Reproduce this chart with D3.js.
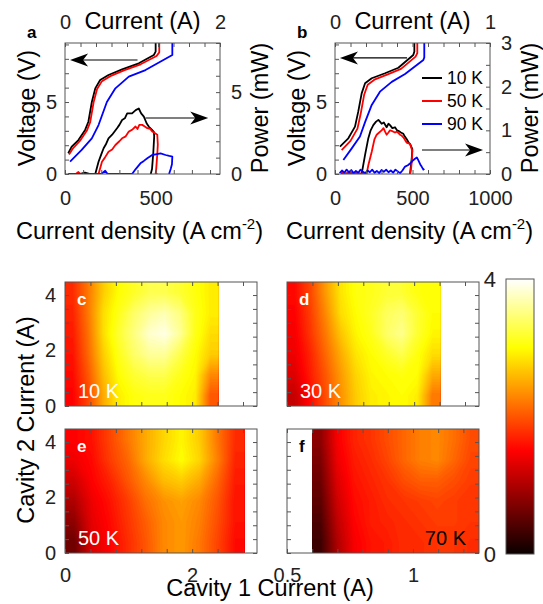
<!DOCTYPE html>
<html>
<head>
<meta charset="utf-8">
<script src="https://cdn.jsdelivr.net/npm/d3@7"></script>
<style>
body { margin: 0; background: #fff; }
</style>
</head>
<body>
<script>
// ---- values ----
// panel a : [current density (A cm-2), voltage (V)] and [current density, power (mW)]
var aVolt10 = [[18,1.44],[37,1.9],[74,2.36],[111,3.06],[129,3.63],[148,5.0],[167,5.95],[194,6.53],[240,6.88],[315,7.27],[407,7.69],[490,8.27],[500,8.5],[500,9.1]];
var aVolt50 = [[22,1.35],[45,1.8],[82,2.3],[120,3.0],[139,3.6],[158,5.0],[177,5.9],[204,6.45],[250,6.8],[325,7.2],[417,7.62],[505,8.2],[520,8.45],[520,9.1]];
var aVolt90 = [[28,0.86],[92,1.67],[148,2.48],[185,3.4],[231,5.0],[278,5.95],[352,6.76],[444,7.22],[592,8.27],[592,9.1]];
var aPow10 = [[20,0],[80,0],[110,0.08],[140,0],[167,0],[185,0.75],[200,1.2],[213,1.57],[225,1.8],[240,2.18],[260,2.4],[287,2.79],[300,3.0],[315,3.3],[330,3.4],[343,3.7],[370,3.7],[390,3.9],[407,4.0],[420,3.7],[435,3.5],[450,3.1],[462,2.9],[480,2.7],[490,2.58],[492,2.3],[487,1.3],[480,0.3],[473,0],[470,0]];
var aPow50 = [[20,0],[60,0],[74,0.12],[85,0],[185,0],[204,0.75],[220,1.0],[240,1.36],[260,1.5],[278,1.77],[300,2.0],[315,2.18],[335,2.3],[352,2.59],[370,2.7],[389,2.9],[400,2.75],[410,3.0],[426,3.0],[440,2.9],[454,2.8],[470,2.75],[481,2.6],[495,2.5],[509,2.4],[512,1.8],[509,1.2],[503,0.3],[500,0],[510,0]];
var aPow90 = [[20,0],[200,0],[222,0.2],[235,0],[370,0],[390,0.3],[416,0.65],[435,0.8],[454,0.96],[481,1.16],[500,1.2],[527,1.26],[555,1.16],[575,1.1],[592,1.06],[590,0.6],[583,0.3],[574,0]];

// panel b
var bVolt10 = [[32,1.9],[86,2.48],[129,3.29],[150,4.33],[172,5.6],[194,6.3],[237,6.65],[323,7.0],[409,7.38],[505,8.27],[512,8.5],[512,9.1]];
var bVolt50 = [[43,1.66],[100,2.3],[145,3.15],[166,4.2],[188,5.5],[211,6.2],[254,6.55],[340,6.92],[426,7.3],[520,8.15],[531,8.4],[531,9.1]];
var bVolt90 = [[54,0.97],[108,1.78],[161,2.6],[194,3.6],[237,4.8],[290,5.72],[366,6.4],[452,6.95],[570,7.92],[576,8.1],[576,9.1]];
var bPow10 = [[40,0],[100,0.02],[172,0],[194,0.44],[215,0.82],[230,1.0],[247,1.12],[265,1.2],[280,1.24],[290,1.2],[301,1.15],[315,1.18],[333,1.07],[345,1.15],[355,1.12],[370,1.05],[387,1.07],[400,1.0],[409,0.99],[425,0.95],[441,0.92],[452,0.85],[462,0.8],[475,0.72],[484,0.69],[499,0.57],[495,0.35],[490,0.2],[484,0]];
var bPow50 = [[40,0.05],[60,0],[90,0.03],[204,0],[215,0.2],[237,0.51],[255,0.8],[269,0.9],[285,0.95],[301,1.0],[313,1.05],[323,0.97],[333,0.9],[345,0.95],[355,1.0],[370,0.98],[387,0.95],[400,0.97],[419,0.9],[430,0.88],[441,0.84],[452,0.78],[462,0.72],[475,0.7],[484,0.69],[499,0.53],[496,0.3],[490,0.1],[484,0]];
var bPow90 = [[30,0.02],[45,0.08],[60,0.03],[75,0.1],[90,0.04],[105,0.09],[120,0.02],[135,0.07],[150,0.03],[165,0.1],[180,0.05],[195,0.02],[210,0.08],[225,0.04],[240,0.1],[255,0.03],[270,0.07],[285,0.02],[300,0.09],[315,0.05],[330,0.1],[345,0.04],[360,0.08],[375,0.03],[390,0.1],[405,0.06],[420,0.02],[435,0.08],[452,0.17],[470,0.2],[484,0.24],[500,0.3],[516,0.35],[528,0.38],[538,0.31],[550,0.22],[559,0.17],[570,0.1],[576,0.12]];

var temps = ["10 K", "50 K", "90 K"];

// maps c-f : output power, rows from top (cavity 2 = 4.47 A) to bottom (0 A)
var map10K = [
  [1.75, 2.2, 2.7, 3.0, 3.15, 3.3, 3.3, 3.2, 3.05, 2.9],
  [1.7, 2.2, 2.8, 3.1, 3.4, 3.6, 3.7, 3.5, 3.1, 2.9],
  [1.65, 2.15, 2.8, 3.2, 3.5, 3.8, 3.9, 3.6, 3.1, 2.8],
  [1.6, 2.1, 2.7, 3.1, 3.4, 3.6, 3.6, 3.3, 3.0, 2.7],
  [1.55, 2.0, 2.6, 3.0, 3.2, 3.3, 3.3, 3.1, 2.95, 2.3],
  [1.5, 1.9, 2.5, 2.9, 3.05, 3.1, 3.1, 3.0, 2.9, 2.0]];
var map30K = [
  [1.55, 1.9, 2.4, 2.85, 3.05, 3.1, 3.2, 3.2, 3.05, 3.0],
  [1.5, 1.85, 2.3, 2.8, 3.0, 3.15, 3.35, 3.45, 3.2, 3.0],
  [1.45, 1.8, 2.2, 2.65, 2.95, 3.1, 3.4, 3.55, 3.2, 2.95],
  [1.4, 1.7, 2.1, 2.5, 2.85, 3.0, 3.15, 3.3, 3.05, 2.8],
  [1.3, 1.65, 2.0, 2.4, 2.75, 2.95, 3.0, 3.05, 3.0, 2.5],
  [1.15, 1.55, 1.95, 2.35, 2.7, 2.9, 2.95, 3.0, 2.9, 2.2]];
var map50K = [
  [1.5, 1.6, 1.9, 2.2, 2.5, 2.75, 2.95, 2.7, 2.2, 1.75],
  [1.4, 1.55, 1.85, 2.1, 2.5, 2.8, 3.0, 2.75, 2.25, 1.7],
  [1.2, 1.5, 1.7, 2.0, 2.3, 2.6, 2.7, 2.5, 2.1, 1.65],
  [1.0, 1.4, 1.6, 1.85, 2.15, 2.35, 2.45, 2.3, 2.0, 1.6],
  [0.8, 1.35, 1.55, 1.8, 2.05, 2.3, 2.4, 2.25, 1.95, 1.6],
  [0.6, 1.3, 1.5, 1.75, 2.0, 2.3, 2.4, 2.2, 1.9, 1.55]];
var map70K = [
  [0.8, 1.45, 1.7, 1.8, 1.95, 2.1, 2.25, 2.3, 2.15, 1.95],
  [0.7, 1.4, 1.65, 1.75, 1.9, 2.1, 2.25, 2.3, 2.1, 1.9],
  [0.6, 1.3, 1.6, 1.7, 1.8, 1.95, 2.05, 2.05, 1.95, 1.85],
  [0.5, 1.2, 1.55, 1.65, 1.75, 1.8, 1.85, 1.9, 1.85, 1.8],
  [0.4, 1.1, 1.5, 1.65, 1.7, 1.75, 1.8, 1.85, 1.85, 1.8],
  [0.3, 1.0, 1.45, 1.6, 1.65, 1.75, 1.75, 1.8, 1.8, 1.75]];
var mapTemps = ["10 K", "30 K", "50 K", "70 K"];

// ---- drawing ----
var font = "'Liberation Sans', Arial, Helvetica, sans-serif";
var frameCol = "#555";
var lineColors = ["#000000", "#ff0000", "#0000ff"];
var labSize = 23.5, tickSize = 20;

var svg = d3.select("body").append("svg")
  .attr("width", 543).attr("height", 604)
  .attr("font-family", font);

function lab(list) {
  return function(d) {
    return list.some(v => Math.abs(v - d) < 1e-9) ? d : "";
  };
}
function styleAxis(sel, size) {
  sel.attr("font-family", font).attr("font-size", size);
  sel.select(".domain").remove();
  sel.selectAll(".tick line").attr("stroke", frameCol);
  sel.selectAll(".tick text").attr("fill", "#222");
}

function arrow(x1, y, x2) {
  var dir = Math.sign(x2 - x1);
  svg.append("line")
    .attr("x1", x1).attr("y1", y).attr("x2", x2 - dir * 8).attr("y2", y)
    .attr("stroke", "#000").attr("stroke-width", 1.2);
  svg.append("path")
    .attr("d", `M${x2},${y}L${x2 - dir * 18},${y - 6.5}L${x2 - dir * 13},${y}L${x2 - dir * 18},${y + 6.5}Z`)
    .attr("fill", "#000");
}

function ivPanel(p) {
  var left = p.left, right = p.left + 155, top = 43, bottom = 174;
  var x = d3.scaleLinear().domain([0, p.jMax]).range([left, right]);
  var xI = d3.scaleLinear().domain([0, p.iMax]).range([left, right]);
  var yV = d3.scaleLinear().domain([0, 9.1]).range([bottom, top]);
  var yP = d3.scaleLinear().domain([0, p.pMax]).range([bottom, top]);

  svg.append("clipPath").attr("id", "clip-" + p.id)
    .append("rect").attr("x", left).attr("y", top)
    .attr("width", right - left).attr("height", bottom - top);
  var g = svg.append("g").attr("clip-path", "url(#clip-" + p.id + ")");

  var vLine = d3.line().x(d => x(d[0])).y(d => yV(d[1]));
  var pLine = d3.line().x(d => x(d[0])).y(d => yP(d[1]));
  p.volt.forEach((s, i) => g.append("path").attr("d", vLine(s))
    .attr("fill", "none").attr("stroke", lineColors[i]).attr("stroke-width", 1.8)
    .attr("stroke-linejoin", "round"));
  p.power.forEach((s, i) => g.append("path").attr("d", pLine(s))
    .attr("fill", "none").attr("stroke", lineColors[i]).attr("stroke-width", 1.8)
    .attr("stroke-linejoin", "round"));

  svg.append("rect").attr("x", left).attr("y", top)
    .attr("width", right - left).attr("height", bottom - top)
    .attr("fill", "none").attr("stroke", frameCol).attr("stroke-width", 1);

  svg.append("g").attr("transform", `translate(0,${bottom})`)
    .call(d3.axisBottom(x).tickValues(d3.range(0, p.jMax + 1, 100)).tickSize(-4)
      .tickPadding(17).tickFormat(lab(p.jLabels)))
    .call(styleAxis, tickSize);
  svg.append("g").attr("transform", `translate(0,${top})`)
    .call(d3.axisTop(xI).tickValues(d3.ticks(0, p.iMax, 10)).tickSize(-4)
      .tickPadding(14).tickFormat(lab([0, p.iMax])))
    .call(styleAxis, tickSize);
  svg.append("g").attr("transform", `translate(${left},0)`)
    .call(d3.axisLeft(yV).tickValues(d3.range(0, 10)).tickSize(-4)
      .tickPadding(8).tickFormat(lab([0, 5])))
    .call(styleAxis, tickSize);
  svg.append("g").attr("transform", `translate(${right},0)`)
    .call(d3.axisRight(yP).tickValues(d3.range(0, p.pMax + 0.01, p.pStep)).tickSize(-4)
      .tickPadding(11).tickFormat(lab(p.pLabels)))
    .call(styleAxis, tickSize);

  var cx = (left + right) / 2;
  svg.append("text").attr("x", cx).attr("y", 29).attr("text-anchor", "middle")
    .attr("font-size", labSize).text("Current (A)");
  var t = svg.append("text").attr("x", cx - 3).attr("y", 239).attr("text-anchor", "middle")
    .attr("font-size", labSize).text("Current density (A cm");
  t.append("tspan").attr("dy", -10).attr("font-size", 15).text("-2");
  t.append("tspan").attr("dy", 10).text(")");
  svg.append("text").attr("transform", `translate(${left - 30},108) rotate(-90)`)
    .attr("text-anchor", "middle").attr("font-size", labSize).text("Voltage (V)");
  svg.append("text").attr("transform", `translate(${right + 48},108) rotate(-90)`)
    .attr("text-anchor", "middle").attr("font-size", labSize).text("Power (mW)");
  svg.append("text").attr("x", left - 38).attr("y", 38)
    .attr("font-size", 17).attr("font-weight", "bold").text(p.id);

  arrow(x(p.vArrow[0]), yV(p.vArrow[2]), x(p.vArrow[1]));
  arrow(x(p.pArrow[0]), yP(p.pArrow[2]), x(p.pArrow[1]));
}

ivPanel({id: "a", left: 65, jMax: 855, iMax: 2, pMax: 8, pStep: 1,
  jLabels: [0, 500], pLabels: [0, 5],
  volt: [aVolt10, aVolt50, aVolt90], power: [aPow10, aPow50, aPow90],
  vArrow: [400, 28, 7.92], pArrow: [444, 790, 3.42]});
ivPanel({id: "b", left: 335, jMax: 1000, iMax: 1, pMax: 3, pStep: 0.5,
  jLabels: [0, 500, 1000], pLabels: [0, 1, 2, 3],
  volt: [bVolt10, bVolt50, bVolt90], power: [bPow10, bPow50, bPow90],
  vArrow: [465, 32, 8.06], pArrow: [561, 955, 0.55]});

// legend (panel b)
var leg = svg.append("g").attr("transform", "translate(422,78)");
temps.forEach((t, i) => {
  leg.append("line").attr("x1", 0).attr("x2", 20).attr("y1", i * 23).attr("y2", i * 23)
    .attr("stroke", lineColors[i]).attr("stroke-width", 2);
  leg.append("text").attr("x", 25).attr("y", i * 23).attr("dy", "0.35em")
    .attr("font-size", 17.5).text(t);
});

// ---- power maps ----
var hot = d3.scaleLinear().domain([0, 1.5, 3, 4])
  .range(["#0b0000", "#ff0000", "#ffff00", "#ffffff"]).clamp(true);
var levels = d3.range(0, 4, 0.04);
var yMax = 4.47;

// repeat the outer rows/columns so the contour rings reach the map edges squarely
function padGrid(grid) {
  var rows = grid.map(r => [r[0]].concat(r, [r[r.length - 1]]));
  return [rows[0]].concat(rows, [rows[rows.length - 1]]);
}

function mapPanel(p) {
  var left = p.left, top = p.top, w = 192, h = 124;
  var x = d3.scaleLinear().domain(p.xDomain).range([left, left + w]);
  var y = d3.scaleLinear().domain([0, yMax]).range([top + h, top]);
  var grid = padGrid(p.grid), n = grid[0].length, m = grid.length;
  var gx = d3.scaleLinear().domain([1, n - 1]).range([x(p.x0), x(p.x1)]);
  var gy = d3.scaleLinear().domain([1, m - 1]).range([y(yMax), y(0)]);
  var path = d3.geoPath(d3.geoTransform({
    point: function(a, b) { this.stream.point(gx(a), gy(b)); }
  }));
  var bands = d3.contours().size([n, m]).thresholds(levels)(grid.flat());
  svg.append("clipPath").attr("id", "mclip-" + p.id).append("rect")
    .attr("x", x(p.x0)).attr("y", top).attr("width", x(p.x1) - x(p.x0)).attr("height", h);
  svg.append("g").attr("clip-path", "url(#mclip-" + p.id + ")")
    .selectAll("path").data(bands).join("path")
    .attr("d", path).attr("fill", d => hot(d.value + 0.02));

  svg.append("rect").attr("x", left).attr("y", top).attr("width", w).attr("height", h)
    .attr("fill", "none").attr("stroke", frameCol).attr("stroke-width", 1);

  var xt = d3.range(p.xDomain[0], p.xDomain[1] + 1e-6, p.xStep);
  var yt = d3.range(0, 4.5, 0.5);
  svg.append("g").attr("transform", `translate(0,${top + h})`)
    .call(d3.axisBottom(x).tickValues(xt).tickSize(-4).tickPadding(15).tickFormat(lab(p.xLabels)))
    .call(styleAxis, tickSize);
  svg.append("g").attr("transform", `translate(0,${top})`)
    .call(d3.axisTop(x).tickValues(xt).tickSize(-4).tickFormat(""))
    .call(styleAxis, tickSize);
  svg.append("g").attr("transform", `translate(${left},0)`)
    .call(d3.axisLeft(y).tickValues(yt).tickSize(-4).tickPadding(9).tickFormat(lab(p.yLabels)))
    .call(styleAxis, tickSize);
  svg.append("g").attr("transform", `translate(${left + w},0)`)
    .call(d3.axisRight(y).tickValues(yt).tickSize(-4).tickFormat(""))
    .call(styleAxis, tickSize);

  svg.append("text").attr("x", left + 12).attr("y", top + 23)
    .attr("font-size", 17).attr("font-weight", "bold").attr("fill", p.ink).text(p.id);
  svg.append("text").attr("x", p.tempEnd ? left + w - 13 : left + 13).attr("y", top + 116)
    .attr("text-anchor", p.tempEnd ? "end" : "start")
    .attr("font-size", 20).attr("fill", p.ink).text(p.temp);
}

mapPanel({id: "c", left: 65, top: 282, xDomain: [0, 3.02], xStep: 0.4, x0: 0, x1: 2.41,
  grid: map10K, xLabels: [], yLabels: [0, 2, 4], ink: "#fff", temp: mapTemps[0]});
mapPanel({id: "d", left: 287, top: 282, xDomain: [0, 3.02], xStep: 0.4, x0: 0, x1: 2.41,
  grid: map30K, xLabels: [], yLabels: [], ink: "#fff", temp: mapTemps[1]});
mapPanel({id: "e", left: 65, top: 429, xDomain: [0, 3.02], xStep: 0.4, x0: 0, x1: 2.82,
  grid: map50K, xLabels: [0, 2], yLabels: [0, 2, 4], ink: "#fff", temp: mapTemps[2]});
mapPanel({id: "f", left: 287, top: 429, xDomain: [0.5, 1.262], xStep: 0.1, x0: 0.6, x1: 1.262,
  grid: map70K, xLabels: [0.5, 1], yLabels: [], ink: "#000", temp: mapTemps[3], tempEnd: true});

svg.append("text").attr("x", 270).attr("y", 596).attr("text-anchor", "middle")
  .attr("font-size", labSize).text("Cavity 1 Current (A)");
svg.append("text").attr("transform", "translate(34,420) rotate(-90)")
  .attr("text-anchor", "middle").attr("font-size", labSize).text("Cavity 2 Current (A)");

// colour bar
var cb = d3.scaleLinear().domain([0, 4]).range([554, 279]);
var grad = svg.append("defs").append("linearGradient").attr("id", "hotbar")
  .attr("x1", 0).attr("y1", 1).attr("x2", 0).attr("y2", 0);
d3.range(0, 4.01, 0.1).forEach(v => grad.append("stop")
  .attr("offset", v / 4).attr("stop-color", hot(v)));
svg.append("rect").attr("x", 506).attr("y", cb(4)).attr("width", 28).attr("height", cb(0) - cb(4))
  .attr("fill", "url(#hotbar)").attr("stroke", frameCol).attr("stroke-width", 1);
svg.append("g").attr("transform", "translate(506,0)")
  .call(d3.axisLeft(cb).tickValues([0, 4]).tickSize(0).tickPadding(10).tickFormat(d3.format("d")))
  .call(styleAxis, 22);
</script>
</body>
</html>
